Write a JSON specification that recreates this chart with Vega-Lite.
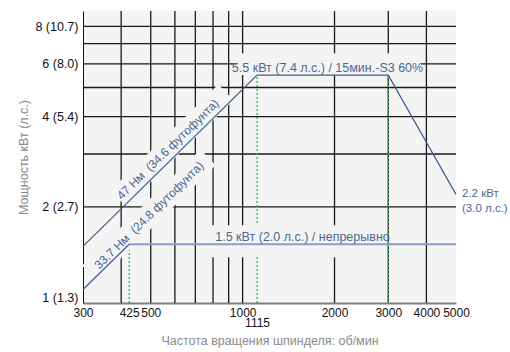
{
  "$schema": "https://vega.github.io/schema/vega-lite/v6.json",
  "width": 373,
  "height": 292,
  "autosize": {"type": "none"},
  "padding": {"left": 83, "top": 11, "right": 54, "bottom": 49},
  "background": "white",
  "config": {"view": {"fill": "#f4f4f4", "stroke": null}, "font": "Liberation Sans Narrow, Liberation Sans, sans-serif"},
  "layer": [
    {
      "data": {"values": [{"rpm": 400}, {"rpm": 500}, {"rpm": 600}, {"rpm": 700}, {"rpm": 800}, {"rpm": 900}, {"rpm": 1000}, {"rpm": 2000}, {"rpm": 3000}, {"rpm": 4000}]},
      "mark": {"type": "rule", "color": "#1a1a1a", "strokeWidth": 1.3},
      "encoding": {
        "x": {
          "field": "rpm", "type": "quantitative",
          "scale": {"type": "log", "domain": [300, 5000], "nice": false},
          "axis": {
            "values": [300, 425, 500, 1000, 1115, 2000, 3000, 4000, 5000],
            "format": "d",
            "labelExpr": "datum.value == 1115 ? ['', '1115'] : datum.label",
            "labelLineHeight": 10,
            "labelOverlap": false,
            "labelFlush": false,
            "labelFont": "Liberation Sans Narrow, Liberation Sans, sans-serif",
            "labelFontSize": 12,
            "labelColor": "#111111",
            "labelPadding": 4,
            "ticks": false,
            "grid": false,
            "domainColor": "#808080",
            "domainWidth": 2,
            "title": "Частота вращения шпинделя: об/мин",
            "titleFont": "Liberation Sans Narrow, Liberation Sans, sans-serif",
            "titleFontSize": 12.5,
            "titleFontWeight": "normal",
            "titleColor": "#8a8a8a",
            "titlePadding": 6
          }
        }
      }
    },
    {
      "data": {"values": [{"kw": 2}, {"kw": 3}, {"kw": 4}, {"kw": 5}, {"kw": 6}, {"kw": 7}, {"kw": 8}]},
      "mark": {"type": "rule", "color": "#1a1a1a", "strokeWidth": 1.3},
      "encoding": {
        "y": {
          "field": "kw", "type": "quantitative",
          "scale": {"type": "log", "domain": [0.955, 9], "nice": false},
          "axis": {
            "values": [1, 2, 4, 6, 8],
            "labelExpr": "datum.value == 1 ? '1 (1.3)' : datum.value == 2 ? '2 (2.7)' : datum.value == 4 ? '4 (5.4)' : datum.value == 6 ? '6 (8.0)' : '8 (10.7)'",
            "labelOverlap": false,
            "labelFlush": false,
            "labelFont": "Liberation Sans Narrow, Liberation Sans, sans-serif",
            "labelFontSize": 12.5,
            "labelColor": "#111111",
            "labelPadding": 5,
            "ticks": false,
            "grid": false,
            "domainColor": "#111111",
            "domainWidth": 1,
            "title": "Мощность кВт (л.с.)",
            "titleFont": "Liberation Sans Narrow, Liberation Sans, sans-serif",
            "titleFontSize": 12.5,
            "titleFontWeight": "normal",
            "titleColor": "#8a8a8a",
            "titlePadding": 4
          }
        }
      }
    },
    {
      "mark": {"type": "rule", "color": "#111111", "strokeWidth": 1},
      "encoding": {"y": {"datum": 9, "type": "quantitative", "scale": {"type": "log", "domain": [0.955, 9], "nice": false}}}
    },
    {
      "mark": {"type": "rule", "color": "#808080", "strokeWidth": 2},
      "encoding": {"x": {"datum": 5000, "type": "quantitative", "scale": {"type": "log", "domain": [300, 5000], "nice": false}}}
    },
    {
      "data": {"values": [{"rpm": 425, "lo": 0.955, "hi": 1.5}, {"rpm": 1115, "lo": 0.955, "hi": 5.5}, {"rpm": 3000, "lo": 0.955, "hi": 5.5}]},
      "mark": {"type": "rule", "color": "#35b04a", "strokeWidth": 1.3, "strokeDash": [2, 2]},
      "encoding": {
        "x": {"field": "rpm", "type": "quantitative", "scale": {"type": "log", "domain": [300, 5000], "nice": false}},
        "y": {"field": "lo", "type": "quantitative", "scale": {"type": "log", "domain": [0.955, 9], "nice": false}},
        "y2": {"field": "hi"}
      }
    },
    {
      "data": {"values": [{"x1": 720, "x2": 2950, "y1": 1.357, "y2": 1.735}, {"x1": 960, "x2": 3840, "y1": 5.5, "y2": 6.5}]},
      "mark": {"type": "rect", "fill": "#f4f4f4"},
      "encoding": {
        "x": {"field": "x1", "type": "quantitative", "scale": {"type": "log", "domain": [300, 5000], "nice": false}},
        "x2": {"field": "x2"},
        "y": {"field": "y1", "type": "quantitative", "scale": {"type": "log", "domain": [0.955, 9], "nice": false}},
        "y2": {"field": "y2"}
      }
    },
    {
      "data": {"values": [
        {"b": "a", "rpm": 390.6, "kw": 2.135}, {"b": "a", "rpm": 882, "kw": 4.821},
        {"b": "c", "rpm": 316.2, "kw": 1.2}, {"b": "c", "rpm": 770, "kw": 2.924}
      ]},
      "mark": {"type": "line", "color": "#f4f4f4", "strokeWidth": 22, "strokeCap": "butt", "clip": true},
      "encoding": {
        "x": {"field": "rpm", "type": "quantitative", "scale": {"type": "log", "domain": [300, 5000], "nice": false}},
        "y": {"field": "kw", "type": "quantitative", "scale": {"type": "log", "domain": [0.955, 9], "nice": false}},
        "detail": {"field": "b"}
      }
    },
    {
      "data": {"values": [{"rpm": 425, "kw": 1.5}, {"rpm": 5000, "kw": 1.5}]},
      "mark": {"type": "line", "color": "#8a9fc6", "strokeWidth": 2.2},
      "encoding": {
        "x": {"field": "rpm", "type": "quantitative", "scale": {"type": "log", "domain": [300, 5000], "nice": false}},
        "y": {"field": "kw", "type": "quantitative", "scale": {"type": "log", "domain": [0.955, 9], "nice": false}}
      }
    },
    {
      "data": {"values": [
        {"s": "47", "o": 1, "rpm": 300, "kw": 1.476}, {"s": "47", "o": 2, "rpm": 1115, "kw": 5.5},
        {"s": "47", "o": 3, "rpm": 3000, "kw": 5.5}, {"s": "47", "o": 4, "rpm": 5000, "kw": 2.2},
        {"s": "33.7", "o": 1, "rpm": 300, "kw": 1.059}, {"s": "33.7", "o": 2, "rpm": 425, "kw": 1.5}
      ]},
      "mark": {"type": "line", "color": "#3f5d92", "strokeWidth": 1.2},
      "encoding": {
        "x": {"field": "rpm", "type": "quantitative", "scale": {"type": "log", "domain": [300, 5000], "nice": false}},
        "y": {"field": "kw", "type": "quantitative", "scale": {"type": "log", "domain": [0.955, 9], "nice": false}},
        "detail": {"field": "s"},
        "order": {"field": "o"}
      }
    },
    {
      "data": {"values": [
        {"rpm": 1897, "kw": 5.5, "t": "5.5 кВт (7.4 л.с.) / 15мин.-S3 60%"},
        {"rpm": 1571, "kw": 1.5, "t": "1.5 кВт (2.0 л.с.) / непрерывно"}
      ]},
      "mark": {"type": "text", "color": "#4a6896", "font": "Liberation Sans Narrow, Liberation Sans, sans-serif", "fontSize": 12.5, "align": "center", "baseline": "alphabetic", "dy": -3},
      "encoding": {
        "x": {"field": "rpm", "type": "quantitative", "scale": {"type": "log", "domain": [300, 5000], "nice": false}},
        "y": {"field": "kw", "type": "quantitative", "scale": {"type": "log", "domain": [0.955, 9], "nice": false}},
        "text": {"field": "t"}
      }
    },
    {
      "data": {"values": [{"rpm": 5000, "kw": 2.2, "t": "2.2 кВт\n(3.0 л.с.)"}]},
      "mark": {"type": "text", "color": "#4a6896", "font": "Liberation Sans Narrow, Liberation Sans, sans-serif", "fontSize": 11.5, "align": "left", "baseline": "alphabetic", "dx": 6, "dy": 3, "lineBreak": "\n", "lineHeight": 15},
      "encoding": {
        "x": {"field": "rpm", "type": "quantitative", "scale": {"type": "log", "domain": [300, 5000], "nice": false}},
        "y": {"field": "kw", "type": "quantitative", "scale": {"type": "log", "domain": [0.955, 9], "nice": false}},
        "text": {"field": "t"}
      }
    },
    {
      "data": {"values": [
        {"rpm": 569, "kw": 3.11, "t": "47 Нм \u00a0(34.6 футофунта)"},
        {"rpm": 493.6, "kw": 1.874, "t": "33.7 Нм \u00a0(24.8 футофунта)"}
      ]},
      "mark": {"type": "text", "color": "#4a6896", "font": "Liberation Sans Narrow, Liberation Sans, sans-serif", "fontSize": 12, "align": "center", "baseline": "middle", "angle": 315.5},
      "encoding": {
        "x": {"field": "rpm", "type": "quantitative", "scale": {"type": "log", "domain": [300, 5000], "nice": false}},
        "y": {"field": "kw", "type": "quantitative", "scale": {"type": "log", "domain": [0.955, 9], "nice": false}},
        "text": {"field": "t"}
      }
    }
  ]
}
